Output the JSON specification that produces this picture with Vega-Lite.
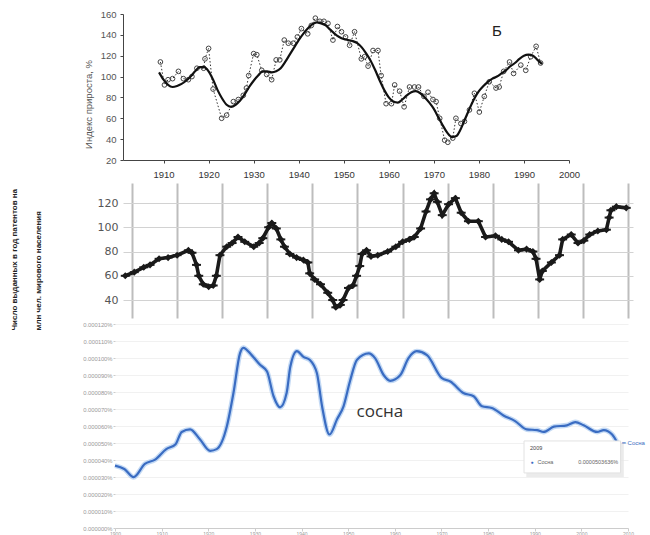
{
  "$schema": "https://vega.github.io/schema/vega-lite/v6.json",
  "width": 650,
  "height": 535,
  "autosize": "none",
  "padding": 0,
  "background": "white",
  "config": {"view": {"stroke": null}, "axis": {"labelFont": "Arial", "titleFont": "Arial"}},
  "datasets": {
    "p1pts": [
      {"year":1909.3,"value":114},{"year":1910.2,"value":92},{"year":1911.0,"value":97},{"year":1912.0,"value":98},{"year":1913.3,"value":105},{"year":1914.4,"value":98},{"year":1915.5,"value":97},{"year":1916.3,"value":100},{"year":1917.4,"value":108},{"year":1918.9,"value":108},{"year":1919.2,"value":117},{"year":1920.0,"value":127},{"year":1921.0,"value":88},{"year":1922.9,"value":60},{"year":1924.0,"value":63},{"year":1925.5,"value":76},{"year":1926.6,"value":78},{"year":1927.7,"value":82},{"year":1928.4,"value":89},{"year":1928.9,"value":101},{"year":1930.0,"value":122},{"year":1930.7,"value":121},{"year":1931.8,"value":106},{"year":1932.9,"value":102},{"year":1934.0,"value":97},{"year":1935.0,"value":116},{"year":1935.8,"value":116},{"year":1936.8,"value":135},{"year":1937.7,"value":132},{"year":1938.8,"value":132},{"year":1939.7,"value":138},{"year":1940.6,"value":146},{"year":1942.0,"value":141},{"year":1942.8,"value":149},{"year":1943.7,"value":156},{"year":1944.7,"value":153},{"year":1945.6,"value":153},{"year":1946.5,"value":151},{"year":1947.6,"value":135},{"year":1948.6,"value":148},{"year":1949.5,"value":143},{"year":1950.4,"value":138},{"year":1951.3,"value":130},{"year":1952.4,"value":143},{"year":1953.9,"value":117},{"year":1954.6,"value":119},{"year":1955.4,"value":110},{"year":1956.5,"value":125},{"year":1957.6,"value":125},{"year":1958.3,"value":101},{"year":1959.4,"value":74},{"year":1960.6,"value":74},{"year":1961.3,"value":92},{"year":1962.4,"value":86},{"year":1963.4,"value":71},{"year":1964.6,"value":90},{"year":1965.7,"value":90},{"year":1966.6,"value":90},{"year":1967.8,"value":81},{"year":1968.7,"value":85},{"year":1969.8,"value":78},{"year":1970.5,"value":76},{"year":1971.3,"value":60},{"year":1972.4,"value":39},{"year":1973.1,"value":37},{"year":1974.2,"value":41},{"year":1974.9,"value":60},{"year":1976.0,"value":55},{"year":1976.8,"value":57},{"year":1977.9,"value":68},{"year":1979.0,"value":84},{"year":1980.1,"value":66},{"year":1981.2,"value":81},{"year":1982.3,"value":95},{"year":1983.8,"value":89},{"year":1984.5,"value":90},{"year":1985.5,"value":105},{"year":1986.8,"value":114},{"year":1987.7,"value":103},{"year":1989.3,"value":111},{"year":1990.4,"value":106},{"year":1991.5,"value":119},{"year":1992.7,"value":129},{"year":1993.7,"value":113}
    ],
    "p1smooth": [
      {"year":1909,"value":104},{"year":1910,"value":97},{"year":1911,"value":92},{"year":1912,"value":90},{"year":1913,"value":91},{"year":1914,"value":93},{"year":1915,"value":96},{"year":1916,"value":100},{"year":1917,"value":105},{"year":1918,"value":109},{"year":1919,"value":109},{"year":1920,"value":105},{"year":1921,"value":97},{"year":1922,"value":87},{"year":1923,"value":79},{"year":1924,"value":73},{"year":1925,"value":71},{"year":1926,"value":73},{"year":1927,"value":77},{"year":1928,"value":83},{"year":1929,"value":90},{"year":1930,"value":96},{"year":1931,"value":101},{"year":1932,"value":105},{"year":1933,"value":105},{"year":1934,"value":104},{"year":1935,"value":105},{"year":1936,"value":108},{"year":1937,"value":114},{"year":1938,"value":121},{"year":1939,"value":128},{"year":1940,"value":135},{"year":1941,"value":141},{"year":1942,"value":146},{"year":1943,"value":150},{"year":1944,"value":152},{"year":1945,"value":151},{"year":1946,"value":149},{"year":1947,"value":145},{"year":1948,"value":141},{"year":1949,"value":138},{"year":1950,"value":136},{"year":1951,"value":135},{"year":1952,"value":134},{"year":1953,"value":132},{"year":1954,"value":128},{"year":1955,"value":122},{"year":1956,"value":115},{"year":1957,"value":106},{"year":1958,"value":96},{"year":1959,"value":87},{"year":1960,"value":80},{"year":1961,"value":76},{"year":1962,"value":75},{"year":1963,"value":78},{"year":1964,"value":82},{"year":1965,"value":85},{"year":1966,"value":86},{"year":1967,"value":84},{"year":1968,"value":80},{"year":1969,"value":75},{"year":1970,"value":69},{"year":1971,"value":61},{"year":1972,"value":53},{"year":1973,"value":46},{"year":1974,"value":42},{"year":1975,"value":43},{"year":1976,"value":50},{"year":1977,"value":60},{"year":1978,"value":70},{"year":1979,"value":79},{"year":1980,"value":86},{"year":1981,"value":91},{"year":1982,"value":95},{"year":1983,"value":98},{"year":1984,"value":100},{"year":1985,"value":103},{"year":1986,"value":106},{"year":1987,"value":110},{"year":1988,"value":113},{"year":1989,"value":117},{"year":1990,"value":120},{"year":1991,"value":121},{"year":1992,"value":120},{"year":1993,"value":116},{"year":1994,"value":112}
    ],
    "p2": [
      {"year":1898.5,"value":60},{"year":1900.5,"value":63},{"year":1902.6,"value":67},{"year":1904,"value":69},{"year":1906,"value":74},{"year":1908,"value":75},{"year":1910,"value":77},{"year":1912.5,"value":81},{"year":1913.3,"value":79},{"year":1914.3,"value":69},{"year":1914.8,"value":60},{"year":1915.8,"value":53},{"year":1917,"value":51},{"year":1918,"value":52},{"year":1918.7,"value":60},{"year":1919.5,"value":77},{"year":1921,"value":84},{"year":1922.2,"value":87},{"year":1923.5,"value":92},{"year":1925,"value":88},{"year":1927,"value":84},{"year":1928.2,"value":87},{"year":1929,"value":91},{"year":1930.3,"value":100},{"year":1931,"value":103.5},{"year":1932,"value":99},{"year":1933,"value":90},{"year":1933.8,"value":84},{"year":1935,"value":78},{"year":1936.5,"value":75},{"year":1938,"value":73},{"year":1939,"value":71},{"year":1939.4,"value":62},{"year":1940.5,"value":57},{"year":1941.8,"value":53},{"year":1943.4,"value":46},{"year":1944.5,"value":40},{"year":1945.2,"value":34},{"year":1946.2,"value":36},{"year":1946.8,"value":40},{"year":1948,"value":50},{"year":1949,"value":52},{"year":1949.8,"value":60},{"year":1950.5,"value":68},{"year":1951,"value":78},{"year":1952,"value":81},{"year":1953,"value":76},{"year":1954.5,"value":77},{"year":1956.7,"value":80},{"year":1958.5,"value":84},{"year":1960,"value":88},{"year":1961.5,"value":90},{"year":1962.6,"value":92},{"year":1964,"value":99},{"year":1965.2,"value":113},{"year":1966.2,"value":123},{"year":1967,"value":128},{"year":1967.7,"value":121},{"year":1968.8,"value":110},{"year":1970.2,"value":119},{"year":1971.7,"value":124},{"year":1973,"value":112},{"year":1974.6,"value":105},{"year":1976.8,"value":105},{"year":1978.4,"value":92},{"year":1980.6,"value":93},{"year":1982,"value":90},{"year":1983.5,"value":88},{"year":1985.7,"value":81},{"year":1987.5,"value":82},{"year":1988.9,"value":80},{"year":1989.6,"value":74},{"year":1990.4,"value":57},{"year":1991,"value":64},{"year":1993,"value":71},{"year":1994.8,"value":77},{"year":1995.5,"value":90},{"year":1997.4,"value":94},{"year":1998.9,"value":87},{"year":2000.2,"value":89},{"year":2001.5,"value":94},{"year":2003.3,"value":97},{"year":2005.2,"value":98},{"year":2005.8,"value":108},{"year":2006.2,"value":114},{"year":2007.4,"value":117},{"year":2009.6,"value":116}
    ],
    "p3": [
      {"year":1900,"value":3.67},{"year":1902,"value":3.47},{"year":1904,"value":2.99},{"year":1906.4,"value":3.77},{"year":1908.6,"value":4.02},{"year":1911,"value":4.64},{"year":1913,"value":4.93},{"year":1914.3,"value":5.65},{"year":1916.1,"value":5.8},{"year":1918.2,"value":5.22},{"year":1920.4,"value":4.54},{"year":1921.8,"value":4.64},{"year":1924,"value":6.0},{"year":1925.4,"value":7.94},{"year":1926.8,"value":10.27},{"year":1927.5,"value":10.6},{"year":1929.3,"value":10.17},{"year":1931.1,"value":9.6},{"year":1932.6,"value":9.2},{"year":1934,"value":7.75},{"year":1935.4,"value":7.1},{"year":1936.8,"value":7.94},{"year":1937.6,"value":9.5},{"year":1939,"value":10.4},{"year":1940.4,"value":10.07},{"year":1941.8,"value":9.88},{"year":1943.3,"value":9.1},{"year":1944.4,"value":7.16},{"year":1946,"value":5.5},{"year":1947.6,"value":6.39},{"year":1949,"value":7.16},{"year":1950.4,"value":8.65},{"year":1951.9,"value":9.9},{"year":1954.4,"value":10.27},{"year":1955.8,"value":9.98},{"year":1957.6,"value":9.0},{"year":1959,"value":8.66},{"year":1961.2,"value":9.0},{"year":1962.9,"value":9.98},{"year":1964.7,"value":10.4},{"year":1966.9,"value":10.17},{"year":1970.1,"value":8.81},{"year":1971.9,"value":8.62},{"year":1974.7,"value":7.94},{"year":1976.9,"value":7.75},{"year":1978.7,"value":7.16},{"year":1980.8,"value":7.06},{"year":1983.3,"value":6.62},{"year":1985.8,"value":6.29},{"year":1988.3,"value":5.8},{"year":1990.5,"value":5.76},{"year":1991.9,"value":5.65},{"year":1994.1,"value":5.96},{"year":1996.9,"value":6.04},{"year":1998.7,"value":6.23},{"year":2000.5,"value":6.04},{"year":2003.4,"value":5.65},{"year":2004.8,"value":5.76},{"year":2006.6,"value":5.5},{"year":2007.7,"value":5.02}
    ]
  },
  "layer": [
    {
      "data": {"name": "p1pts"},
      "mark": {"type": "line", "strokeDash": [1.5, 2], "strokeWidth": 1, "color": "#333"},
      "encoding": {
        "x": {"field": "year", "type": "quantitative", "scale": {"domain": [1901, 2000], "range": [123, 569], "nice": false, "zero": false},
          "axis": {"orient": "bottom", "offset": -375, "values": [1910,1920,1930,1940,1950,1960,1970,1980,1990,2000], "format": "d", "grid": false, "title": null, "tickSize": 3, "tickColor": "#444", "domainColor": "#444", "labelFlush": false, "labelPadding": 6, "labelFont": "Arial", "labelFontSize": 9.5, "labelColor": "#333"}},
        "y": {"field": "value", "type": "quantitative", "scale": {"domain": [20, 160], "range": [160, 14], "nice": false, "zero": false},
          "axis": {"orient": "left", "offset": -123, "values": [20,40,60,80,100,120,140,160], "grid": false, "tickSize": 3, "tickColor": "#444", "domainColor": "#444", "labelFlush": false, "labelPadding": 4, "labelFont": "Arial", "labelFontSize": 9.5, "labelColor": "#555", "title": "Индекс прироста, %", "titleFont": "Arial", "titleFontSize": 9.5, "titleFontWeight": "normal", "titleColor": "#555", "titleAngle": -90, "titleAlign": "center", "titleBaseline": "bottom", "titleX": -30, "titleY": 104}}
      }
    },
    {
      "data": {"name": "p1pts"},
      "mark": {"type": "point", "shape": "circle", "filled": false, "stroke": "#444", "strokeWidth": 1, "size": 22, "opacity": 1},
      "encoding": {
        "x": {"field": "year", "type": "quantitative", "scale": {"domain": [1901, 2000], "range": [123, 569], "nice": false, "zero": false}, "axis": null},
        "y": {"field": "value", "type": "quantitative", "scale": {"domain": [20, 160], "range": [160, 14], "nice": false, "zero": false}, "axis": null}
      }
    },
    {
      "data": {"name": "p1smooth"},
      "mark": {"type": "line", "interpolate": "monotone", "strokeWidth": 2.2, "color": "#111"},
      "encoding": {
        "x": {"field": "year", "type": "quantitative", "scale": {"domain": [1901, 2000], "range": [123, 569], "nice": false, "zero": false}, "axis": null},
        "y": {"field": "value", "type": "quantitative", "scale": {"domain": [20, 160], "range": [160, 14], "nice": false, "zero": false}, "axis": null}
      }
    },
    {
      "data": {"values": [{"label": "Б"}]},
      "mark": {"type": "text", "font": "Arial", "fontSize": 15, "color": "#222", "align": "center", "baseline": "middle"},
      "encoding": {
        "text": {"field": "label"},
        "x": {"datum": 1984, "type": "quantitative", "scale": {"domain": [1901, 2000], "range": [123, 569], "nice": false, "zero": false}, "axis": null},
        "y": {"datum": 144, "type": "quantitative", "scale": {"domain": [20, 160], "range": [160, 14], "nice": false, "zero": false}, "axis": null}
      }
    },
    {
      "data": {"name": "p2"},
      "mark": {"type": "line", "strokeWidth": 3.6, "color": "#1a1a1a"},
      "encoding": {
        "x": {"field": "year", "type": "quantitative", "scale": {"domain": [1898, 2011.1], "range": [123, 633], "nice": false, "zero": false},
          "axis": {"orient": "top", "values": [1900,1910,1920,1930,1940,1950,1960,1970,1980,1990,2000,2010], "grid": true, "gridColor": "#bdbdbd", "gridWidth": 2, "labels": false, "ticks": false, "domain": false, "title": null}},
        "y": {"field": "value", "type": "quantitative", "scale": {"domain": [25.2, 136.5], "range": [318, 183], "nice": false, "zero": false},
          "axis": {"orient": "left", "offset": -123, "values": [40,60,80,100,120], "grid": true, "gridColor": "#d2d2d2", "gridWidth": 1, "ticks": false, "tickSize": 0, "domain": false, "labelPadding": 5, "labelFont": "DejaVu Sans", "labelFontSize": 11, "labelColor": "#555",
            "title": ["Число выданных в год патентов на", "млн чел. мирового населения"], "titleFont": "Arial", "titleFontSize": 8, "titleFontWeight": "bold", "titleColor": "#222", "titleAngle": -90, "titleAlign": "left", "titleBaseline": "top", "titleLineHeight": 24, "titleX": -113, "titleY": 330}}
      }
    },
    {
      "data": {"name": "p2"},
      "mark": {"type": "point", "shape": "diamond", "filled": true, "size": 50, "color": "#1a1a1a", "opacity": 1},
      "encoding": {
        "x": {"field": "year", "type": "quantitative", "scale": {"domain": [1898, 2011.1], "range": [123, 633], "nice": false, "zero": false}, "axis": null},
        "y": {"field": "value", "type": "quantitative", "scale": {"domain": [25.2, 136.5], "range": [318, 183], "nice": false, "zero": false}, "axis": null}
      }
    },
    {
      "data": {"name": "p2"},
      "mark": {"type": "point", "shape": "stroke", "filled": false, "size": 80, "strokeWidth": 2, "color": "#1a1a1a", "opacity": 1},
      "encoding": {
        "x": {"field": "year", "type": "quantitative", "scale": {"domain": [1898, 2011.1], "range": [123, 633], "nice": false, "zero": false}, "axis": null},
        "y": {"field": "value", "type": "quantitative", "scale": {"domain": [25.2, 136.5], "range": [318, 183], "nice": false, "zero": false}, "axis": null}
      }
    },
    {
      "data": {"name": "p3"},
      "mark": {"type": "line", "interpolate": "monotone", "strokeWidth": 5, "color": "#a9c9ef", "opacity": 0.7},
      "encoding": {
        "x": {"field": "year", "type": "quantitative", "scale": {"domain": [1900, 2010], "range": [115, 628], "nice": false, "zero": false},
          "axis": {"orient": "bottom", "offset": -7, "values": [1900,1910,1920,1930,1940,1950,1960,1970,1980,1990,2000,2010], "format": "d", "grid": false, "title": null, "tickSize": 3, "tickColor": "#ccc", "domainColor": "#ccc", "labelFlush": false, "labelPadding": 0, "labelFontSize": 5, "labelColor": "#999"}},
        "y": {"field": "value", "type": "quantitative", "scale": {"domain": [0, 12], "range": [528, 324], "nice": false, "zero": false},
          "axis": {"orient": "left", "offset": -115, "values": [0,1,2,3,4,5,6,7,8,9,10,11,12], "grid": true, "gridColor": "#f1f1f1", "domain": false, "tickSize": 2, "tickColor": "#ccc", "labelFlush": false, "labelPadding": 1, "labelFontSize": 5.8, "labelColor": "#999", "labelExpr": "format(datum.value / 100000, '.6f') + '%'", "title": null}}
      }
    },
    {
      "data": {"name": "p3"},
      "mark": {"type": "line", "interpolate": "monotone", "strokeWidth": 2.2, "color": "#3a6cc2"},
      "encoding": {
        "x": {"field": "year", "type": "quantitative", "scale": {"domain": [1900, 2010], "range": [115, 628], "nice": false, "zero": false}, "axis": null},
        "y": {"field": "value", "type": "quantitative", "scale": {"domain": [0, 12], "range": [528, 324], "nice": false, "zero": false}, "axis": null}
      }
    },
    {
      "data": {"values": [{"label": "сосна"}]},
      "mark": {"type": "text", "font": "Open Sans", "fontSize": 17, "color": "#333", "align": "center", "baseline": "middle"},
      "encoding": {
        "text": {"field": "label"},
        "x": {"datum": 1956.8, "type": "quantitative", "scale": {"domain": [1900, 2010], "range": [115, 628], "nice": false, "zero": false}, "axis": null},
        "y": {"datum": 6.85, "type": "quantitative", "scale": {"domain": [0, 12], "range": [528, 324], "nice": false, "zero": false}, "axis": null}
      }
    },
    {
      "data": {"values": [{"box": "shadow"}]},
      "mark": {"type": "rect", "fill": "#e6e6e6", "opacity": 0.8},
      "encoding": {
        "x": {"datum": 1988.2, "type": "quantitative", "scale": {"domain": [1900, 2010], "range": [115, 628], "nice": false, "zero": false}, "axis": null},
        "x2": {"datum": 2009.1},
        "y": {"datum": 5.0, "type": "quantitative", "scale": {"domain": [0, 12], "range": [528, 324], "nice": false, "zero": false}, "axis": null},
        "y2": {"datum": 3.0}
      }
    },
    {
      "data": {"values": [{"box": "tooltip"}]},
      "mark": {"type": "rect", "fill": "white", "stroke": "#e2e2e2", "strokeWidth": 1},
      "encoding": {
        "x": {"datum": 1987.7, "type": "quantitative", "scale": {"domain": [1900, 2010], "range": [115, 628], "nice": false, "zero": false}, "axis": null},
        "x2": {"datum": 2008.4},
        "y": {"datum": 5.12, "type": "quantitative", "scale": {"domain": [0, 12], "range": [528, 324], "nice": false, "zero": false}, "axis": null},
        "y2": {"datum": 3.24}
      }
    },
    {
      "data": {"values": [{"label": "2009"}]},
      "mark": {"type": "text", "fontSize": 5.5, "color": "#444", "align": "left", "baseline": "middle"},
      "encoding": {
        "text": {"field": "label"},
        "x": {"datum": 1989.0, "type": "quantitative", "scale": {"domain": [1900, 2010], "range": [115, 628], "nice": false, "zero": false}, "axis": null},
        "y": {"datum": 4.7, "type": "quantitative", "scale": {"domain": [0, 12], "range": [528, 324], "nice": false, "zero": false}, "axis": null}
      }
    },
    {
      "data": {"values": [{"label": "●"}]},
      "mark": {"type": "text", "fontSize": 5, "color": "#3a6cc2", "align": "left", "baseline": "middle"},
      "encoding": {
        "text": {"field": "label"},
        "x": {"datum": 1989.1, "type": "quantitative", "scale": {"domain": [1900, 2010], "range": [115, 628], "nice": false, "zero": false}, "axis": null},
        "y": {"datum": 3.88, "type": "quantitative", "scale": {"domain": [0, 12], "range": [528, 324], "nice": false, "zero": false}, "axis": null}
      }
    },
    {
      "data": {"values": [{"label": "Сосна"}]},
      "mark": {"type": "text", "fontSize": 5.5, "color": "#666", "align": "left", "baseline": "middle"},
      "encoding": {
        "text": {"field": "label"},
        "x": {"datum": 1990.6, "type": "quantitative", "scale": {"domain": [1900, 2010], "range": [115, 628], "nice": false, "zero": false}, "axis": null},
        "y": {"datum": 3.88, "type": "quantitative", "scale": {"domain": [0, 12], "range": [528, 324], "nice": false, "zero": false}, "axis": null}
      }
    },
    {
      "data": {"values": [{"label": "0.0000503636%"}]},
      "mark": {"type": "text", "fontSize": 5.5, "color": "#666", "align": "right", "baseline": "middle"},
      "encoding": {
        "text": {"field": "label"},
        "x": {"datum": 2007.9, "type": "quantitative", "scale": {"domain": [1900, 2010], "range": [115, 628], "nice": false, "zero": false}, "axis": null},
        "y": {"datum": 3.88, "type": "quantitative", "scale": {"domain": [0, 12], "range": [528, 324], "nice": false, "zero": false}, "axis": null}
      }
    },
    {
      "data": {"values": [{"label": "━ Сосна"}]},
      "mark": {"type": "text", "fontSize": 6, "color": "#3a6cc2", "align": "left", "baseline": "middle"},
      "encoding": {
        "text": {"field": "label"},
        "x": {"datum": 2008.7, "type": "quantitative", "scale": {"domain": [1900, 2010], "range": [115, 628], "nice": false, "zero": false}, "axis": null},
        "y": {"datum": 4.98, "type": "quantitative", "scale": {"domain": [0, 12], "range": [528, 324], "nice": false, "zero": false}, "axis": null}
      }
    }
  ],
  "resolve": {"scale": {"x": "independent", "y": "independent"}, "axis": {"x": "independent", "y": "independent"}}
}
